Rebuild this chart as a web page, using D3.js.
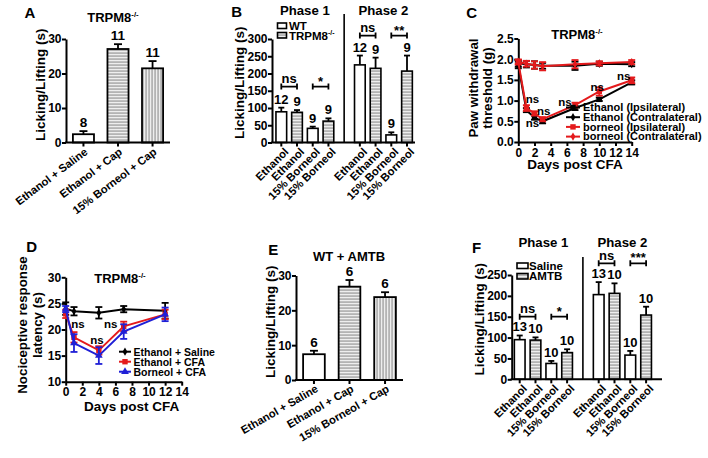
<!DOCTYPE html>
<html><head><meta charset="utf-8">
<script src="https://cdn.jsdelivr.net/npm/d3@7"></script>
<style>
body{margin:0;background:#fff}
svg{display:block}
text{font-family:"Liberation Sans",Arial,sans-serif;font-weight:bold;fill:#000}
</style>
</head><body>
<svg id="fig" width="708" height="458"></svg>
<script>
// ---------------- DATA ----------------
// Panel A (TRPM8-/-)
const catA = ["Ethanol + Saline", "Ethanol + Cap", "15% Borneol + Cap"];
const meanA = [2.4, 27.1, 21.5];
const semA = [0.9, 1.4, 2.1];
const nA = ["8", "11", "11"];
const fillA = ["white", "hstripe", "vstripe"];
const yTicksA = [0, 10, 20, 30];

// Panel B (Phase 1 / Phase 2, WT vs TRPM8-/-)
const catB = ["Ethanol", "Ethanol", "15% Borneol", "15% Borneol", "Ethanol", "Ethanol", "15% Borneol", "15% Borneol"];
const groupB = ["WT", "TRPM8", "WT", "TRPM8", "WT", "TRPM8", "WT", "TRPM8"];
const phaseB = [1, 1, 1, 1, 2, 2, 2, 2];
const meanB = [89, 87.5, 41, 62, 225, 215, 22, 207];
const semB = [12, 6.5, 5, 8, 27, 31, 7.5, 45];
const nB = ["12", "9", "9", "9", "12", "9", "9", "9"];
const sigPairsB = [[0, 1], [2, 3], [4, 5], [6, 7]];
const sigTextB = ["ns", "*", "ns", "**"];
const sigLevelB = [162, 162, 310, 310];
const yTicksB = [0, 50, 100, 150, 200, 250, 300];

// Panel C (paw withdrawal threshold)
const daysC = [0, 1, 2, 3, 7, 10, 14];
const ethIpsiC = [1.86, 0.77, 0.59, 0.50, 0.82, 1.03, 1.44];
const ethIpsiSemC = [0.08, 0.05, 0.05, 0.05, 0.05, 0.04, 0.05];
const ethContraC = [1.90, 1.88, 1.86, 1.84, 1.84, 1.89, 1.88];
const ethContraSemC = [0.08, 0.08, 0.09, 0.07, 0.10, 0.05, 0.05];
const borIpsiC = [1.93, 0.82, 0.69, 0.55, 0.89, 1.22, 1.49];
const borIpsiSemC = [0.06, 0.07, 0.05, 0.05, 0.06, 0.10, 0.07];
const borContraC = [1.94, 1.89, 1.86, 1.83, 1.88, 1.90, 1.93];
const borContraSemC = [0.05, 0.07, 0.09, 0.10, 0.10, 0.05, 0.05];
const legendC = ["Ethanol (Ipsilateral)", "Ethanol (Contralateral)", "borneol (Ipsilateral)", "borneol (Contralateral)"];
const nsDaysC = [1, 2, 3, 7, 10, 14];

// Panel D (nociceptive response latency)
const daysD = [0, 1, 4, 7, 12];
const salineD = [24.0, 23.5, 23.2, 23.9, 23.6];
const salineSemD = [1.2, 0.8, 1.1, 0.6, 1.5];
const ethCfaD = [23.0, 18.5, 16.0, 20.6, 22.9];
const ethCfaSemD = [0.8, 1.0, 0.8, 0.9, 0.9];
const borCfaD = [23.9, 17.4, 15.0, 19.6, 22.9];
const borCfaSemD = [0.6, 1.7, 1.6, 1.4, 1.3];
const legendD = ["Ethanol + Saline", "Ethanol + CFA", "Borneol + CFA"];
const nsDaysD = [1, 4, 7];

// Panel E (WT + AMTB)
const catE = ["Ethanol + Saline", "Ethanol + Cap", "15% Borneol + Cap"];
const meanE = [7.4, 26.8, 23.8];
const semE = [1.0, 1.9, 1.4];
const nE = ["6", "6", "6"];
const yTicksE = [0, 10, 20, 30];

// Panel F (Saline vs AMTB)
const catF = ["Ethanol", "Ethanol", "15% Borneol", "15% Borneol", "Ethanol", "Ethanol", "15% Borneol", "15% Borneol"];
const groupF = ["Saline", "AMTB", "Saline", "AMTB", "Saline", "AMTB", "Saline", "AMTB"];
const phaseF = [1, 1, 1, 1, 2, 2, 2, 2];
const meanF = [95, 94, 38, 64, 203, 206, 58, 154];
const semF = [10, 6.5, 6, 8, 30, 24, 10, 20];
const nF = ["13", "10", "10", "10", "13", "10", "10", "10"];
const sigPairsF = [[0, 1], [2, 3], [4, 5], [6, 7]];
const sigTextF = ["ns", "*", "ns", "***"];
const sigLevelF = [150, 150, 278, 278];
const yTicksF = [0, 50, 100, 150, 200, 250];

// ---------------- DRAWING ----------------
const svg = d3.select("#fig");
svg.append("rect").attr("width", 708).attr("height", 458).attr("fill", "#fff");
const defs = svg.append("defs");
function stripe(id, vertical) {
  const p = defs.append("pattern").attr("id", id).attr("patternUnits", "userSpaceOnUse")
    .attr("width", 3).attr("height", 3);
  p.append("rect").attr("width", 3).attr("height", 3).attr("fill", "#b4b4b4");
  if (vertical) p.append("rect").attr("width", 1.2).attr("height", 3).attr("fill", "#eeeeee");
  else p.append("rect").attr("width", 3).attr("height", 1.2).attr("fill", "#eeeeee");
}
stripe("hstripe", false);
stripe("vstripe", true);
const fillOf = f => f === "white" ? "#fff" : `url(#${f})`;

function txt(x, y, s, size, anchor = "middle") {
  return svg.append("text").attr("x", x).attr("y", y).attr("font-size", size)
    .attr("text-anchor", anchor).text(s);
}
function trpm(x, y, size, anchor = "middle") {
  const t = svg.append("text").attr("x", x).attr("y", y).attr("font-size", size).attr("text-anchor", anchor);
  t.append("tspan").text("TRPM8");
  t.append("tspan").attr("font-size", size * 0.6).attr("dy", -size * 0.38).text("-/-");
  return t;
}
function vtitle(x, y, s, size) {
  return svg.append("text").attr("transform", `translate(${x},${y}) rotate(-90)`)
    .attr("font-size", size).attr("text-anchor", "middle").text(s);
}
function styleAxis(g, fs) {
  g.attr("font-size", fs);
  g.select(".domain").attr("stroke-width", 2).attr("stroke", "#000");
  g.selectAll(".tick line").attr("stroke-width", 2).attr("stroke", "#000");
}
function yAxis(y, x0, ticks, fs, fmt) {
  const ax = d3.axisLeft(y).tickValues(ticks).tickSize(4).tickSizeOuter(0).tickPadding(0.5);
  if (fmt) ax.tickFormat(fmt);
  const g = svg.append("g").attr("transform", `translate(${x0},0)`).call(ax);
  styleAxis(g, fs);
  return g;
}
function errBar(cx, yTop, yMean, capW, color = "#000", sw = 1.8) {
  svg.append("line").attr("x1", cx).attr("x2", cx).attr("y1", yMean).attr("y2", yTop)
    .attr("stroke", color).attr("stroke-width", sw);
  svg.append("line").attr("x1", cx - capW / 2).attr("x2", cx + capW / 2).attr("y1", yTop).attr("y2", yTop)
    .attr("stroke", color).attr("stroke-width", sw);
}
function bracket(xa, xb, y, s) {
  const p = d3.path();
  p.moveTo(xa, y - 3); p.lineTo(xa, y + 3);
  p.moveTo(xb, y - 3); p.lineTo(xb, y + 3);
  p.moveTo(xa, y); p.lineTo(xb, y);
  svg.append("path").attr("d", p.toString()).attr("stroke", "#000").attr("stroke-width", 1.8).attr("fill", "none");
  txt((xa + xb) / 2, s.startsWith("*") ? y - 1 : y - 3.5, s, 13);
}
function rotLabel(cx, y0, s, fs, rot, dx, dy) {
  svg.append("text").attr("transform", `translate(${cx + dx},${y0 + dy}) rotate(${-rot})`)
    .attr("text-anchor", "end").attr("font-size", fs).text(s);
}

// ---- simple 3-bar panels (A, E) ----
function simpleBars(o) {
  const x = d3.scaleBand().domain(d3.range(o.cats.length)).range([o.x0, o.x1])
    .paddingInner(0.39).paddingOuter(0.2);
  const y = d3.scaleLinear().domain([0, o.ymax]).range([o.yb, o.yt]);
  o.mean.forEach((m, i) => {
    const cx = x(i) + x.bandwidth() / 2;
    errBar(cx, y(m + o.sem[i]), y(m), 8);
    svg.append("rect").attr("x", x(i)).attr("y", y(m)).attr("width", x.bandwidth())
      .attr("height", o.yb - y(m)).attr("fill", fillOf(o.fills[i])).attr("stroke", "#000").attr("stroke-width", 1.8);
    txt(cx, y(m + o.sem[i]) - 4, o.n[i], 13.5);
    svg.append("line").attr("x1", cx).attr("x2", cx).attr("y1", o.yb).attr("y2", o.yb + 4)
      .attr("stroke", "#000").attr("stroke-width", 2);
    rotLabel(cx, o.yb, o.cats[i], 11.2, o.rot, 5, 11);
  });
  svg.append("line").attr("x1", o.x0 - 1).attr("x2", o.x1).attr("y1", o.yb).attr("y2", o.yb)
    .attr("stroke", "#000").attr("stroke-width", 2);
  yAxis(y, o.x0, o.ticks, 12);
  vtitle(o.titleX, (o.yb + o.yt) / 2 - 6, "Licking/Lifting (s)", 13.5);
}

// ---- grouped bars with two phases (B, F) ----
function phaseBars(o) {
  const slot = o.mean.map((_, i) => i + (o.phase[i] - 1));
  const x = d3.scaleLinear().domain([0, 8]).range([o.c0, o.c8]);
  const y = d3.scaleLinear().domain([0, o.ymax]).range([o.yb, o.yt]);
  const bw = 10.7;
  o.mean.forEach((m, i) => {
    const cx = x(slot[i]);
    errBar(cx, y(m + o.sem[i]), y(m), 6);
    const f = o.groups[i] === o.groupNames[0] ? "white" : "hstripe";
    svg.append("rect").attr("x", cx - bw / 2).attr("y", y(m)).attr("width", bw)
      .attr("height", o.yb - y(m)).attr("fill", fillOf(f)).attr("stroke", "#000").attr("stroke-width", 1.6);
    txt(cx, y(m + o.sem[i]) - 4, o.n[i], 13);
    svg.append("line").attr("x1", cx).attr("x2", cx).attr("y1", o.yb).attr("y2", o.yb + 4)
      .attr("stroke", "#000").attr("stroke-width", 2);
    rotLabel(cx, o.yb, o.cats[i], 11.2, 45, 8, 10);
  });
  o.pairs.forEach((p, k) => bracket(x(slot[p[0]]), x(slot[p[1]]), y(o.levels[k]), o.sigText[k]));
  // divider
  svg.append("line").attr("x1", x(4)).attr("x2", x(4)).attr("y1", o.divTop).attr("y2", o.yb)
    .attr("stroke", "#000").attr("stroke-width", 1.6);
  svg.append("line").attr("x1", o.x0 - 1).attr("x2", o.x1).attr("y1", o.yb).attr("y2", o.yb)
    .attr("stroke", "#000").attr("stroke-width", 2);
  yAxis(y, o.x0, o.ticks, 12);
  vtitle(o.titleX, (o.yb + o.yt) / 2 - 8, "Licking/Lifting (s)", 13.5);
  txt((x(0) + x(3)) / 2, o.phaseY, "Phase 1", 13.2);
  txt((x(5) + x(8)) / 2, o.phaseY, "Phase 2", 13.2);
}

// ---- line panels (C, D) ----
function marker(g, type, cx, cy, color) {
  if (type === "square") g.append("rect").attr("x", cx - 2.7).attr("y", cy - 2.7).attr("width", 5.4).attr("height", 5.4).attr("fill", color);
  else if (type === "triangle") g.append("path").attr("d", d3.symbol(d3.symbolTriangle, 26)()).attr("transform", `translate(${cx},${cy})`).attr("fill", color);
  else g.append("path").attr("d", d3.symbol(d3.symbolDiamond, 20)()).attr("transform", `translate(${cx},${cy})`).attr("fill", color);
}
function series(x, y, days, vals, sems, color, mtype) {
  const g = svg.append("g");
  g.append("path").datum(days.map((d, i) => [d, vals[i]]))
    .attr("d", d3.line().x(d => x(d[0])).y(d => y(d[1])))
    .attr("fill", "none").attr("stroke", color).attr("stroke-width", 2);
  days.forEach((d, i) => {
    const cx = x(d);
    g.append("line").attr("x1", cx).attr("x2", cx).attr("y1", y(vals[i] - sems[i])).attr("y2", y(vals[i] + sems[i]))
      .attr("stroke", color).attr("stroke-width", 1.8);
    [vals[i] - sems[i], vals[i] + sems[i]].forEach(v =>
      g.append("line").attr("x1", cx - 3.5).attr("x2", cx + 3.5).attr("y1", y(v)).attr("y2", y(v))
        .attr("stroke", color).attr("stroke-width", 1.8));
    marker(g, mtype, cx, y(vals[i]), color);
  });
}
function xAxisLin(x, y0, ticks, fs) {
  const g = svg.append("g").attr("transform", `translate(0,${y0})`)
    .call(d3.axisBottom(x).tickValues(ticks).tickSize(4).tickSizeOuter(0).tickPadding(2));
  styleAxis(g, fs);
}

// ===== Panel A =====
txt(30, 18, "A", 15);
trpm(113, 21.5, 13);
simpleBars({cats: catA, mean: meanA, sem: semA, n: nA, fills: fillA, x0: 66, x1: 170,
  yb: 142.5, yt: 39, ymax: 30, ticks: yTicksA, rot: 37, titleX: 45});

// ===== Panel B =====
txt(236.7, 17, "B", 15);
phaseBars({cats: catB, groups: groupB, groupNames: ["WT", "TRPM8"], phase: phaseB, mean: meanB, sem: semB, n: nB,
  pairs: sigPairsB, sigText: sigTextB, levels: sigLevelB, x0: 272, x1: 415, c0: 281.3, c8: 407,
  yb: 142.5, yt: 39, ymax: 300, ticks: yTicksB, titleX: 244, divTop: 14, phaseY: 15});
// legend B
svg.append("rect").attr("x", 277.5).attr("y", 23).attr("width", 9).attr("height", 5.5).attr("fill", "#fff").attr("stroke", "#000").attr("stroke-width", 1.6);
txt(289, 29.5, "WT", 11.5, "start");
svg.append("rect").attr("x", 277.5).attr("y", 32.5).attr("width", 9).attr("height", 5.5).attr("fill", "url(#hstripe)").attr("stroke", "#000").attr("stroke-width", 1.6);
trpm(289, 39.5, 11.5, "start");

// ===== Panel C =====
txt(471.7, 18, "C", 15);
{
  const x = d3.scaleLinear().domain([0, 14]).range([518.3, 631.7]);
  const y = d3.scaleLinear().domain([0, 2.5]).range([142, 38.5]);
  yAxis(y, 518.3, [0, 0.5, 1, 1.5, 2, 2.5], 12, d3.format(".1f"));
  xAxisLin(x, 142, d3.range(0, 15, 2), 12);
  series(x, y, daysC, ethIpsiC, ethIpsiSemC, "#000", "square");
  series(x, y, daysC, ethContraC, ethContraSemC, "#000", "diamond");
  series(x, y, daysC, borIpsiC, borIpsiSemC, "#e41a1c", "square");
  series(x, y, daysC, borContraC, borContraSemC, "#e41a1c", "diamond");
  // ns annotations (placement offsets relative to the ipsilateral points)
  const place = {1: [6, -2, "top"], 2: [-2, 7, "bottom"], 3: [1, -2, "top"], 7: [-10, 3, "top"], 10: [-2, 4, "top"], 14: [-8, 2.6, "top"]};
  nsDaysC.forEach(d => {
    const i = daysC.indexOf(d);
    const [dx, dy, ref] = place[d];
    const v = ref === "top" ? Math.max(borIpsiC[i] + borIpsiSemC[i], ethIpsiC[i] + ethIpsiSemC[i])
                            : Math.min(borIpsiC[i] - borIpsiSemC[i], ethIpsiC[i] - ethIpsiSemC[i]);
    txt(x(d) + dx, y(v) + dy, "ns", 11.5);
  });
  // legend
  const cols = ["#000", "#000", "#e41a1c", "#e41a1c"], mk = ["square", "diamond", "square", "diamond"];
  legendC.forEach((s, k) => {
    const yy = 107.5 + k * 9.7;
    svg.append("line").attr("x1", 566).attr("x2", 580).attr("y1", yy).attr("y2", yy).attr("stroke", cols[k]).attr("stroke-width", 2);
    marker(svg, mk[k], 573, yy, cols[k]);
    txt(583, yy + 3.8, s, 11, "start");
  });
  trpm(577, 39, 13);
  txt(575, 169, "Days post CFA", 13.5);
  vtitle(478, 88, "Paw withdrawal", 13.3);
  vtitle(492, 88, "threshold (g)", 13.3);
}

// ===== Panel D =====
txt(31.7, 252, "D", 15);
{
  const x = d3.scaleLinear().domain([0, 14]).range([65.7, 181.7]);
  const y = d3.scaleLinear().domain([10, 30]).range([381.7, 277.3]);
  yAxis(y, 65.7, [10, 15, 20, 25, 30], 12);
  xAxisLin(x, 381.7, d3.range(0, 15, 2), 12);
  series(x, y, daysD, salineD, salineSemD, "#000", "diamond");
  series(x, y, daysD, ethCfaD, ethCfaSemD, "#e41a1c", "square");
  series(x, y, daysD, borCfaD, borCfaSemD, "#1f1fd6", "triangle");
  const place = {1: [4, -4], 4: [-2, -2], 7: [-13, 6]};
  nsDaysD.forEach(d => {
    const i = daysD.indexOf(d);
    const [dx, dy] = place[d];
    txt(x(d) + dx, y(ethCfaD[i] + ethCfaSemD[i]) + dy, "ns", 11.5);
  });
  const cols = ["#000", "#e41a1c", "#1f1fd6"], mk = ["diamond", "square", "triangle"];
  legendD.forEach((s, k) => {
    const yy = 351.7 + k * 10;
    svg.append("line").attr("x1", 119).attr("x2", 131).attr("y1", yy).attr("y2", yy).attr("stroke", cols[k]).attr("stroke-width", 2);
    marker(svg, mk[k], 125, yy, cols[k]);
    txt(133.5, yy + 4, s, 10.5, "start");
  });
  trpm(120, 283, 13);
  txt(131.7, 411, "Days post CFA", 13.5);
  vtitle(27, 325, "Nociceptive response", 13.3);
  vtitle(42, 325, "latency (s)", 13.3);
}

// ===== Panel E =====
txt(273.3, 255, "E", 15);
txt(349, 261, "WT + AMTB", 13);
simpleBars({cats: catE, mean: meanE, sem: semE, n: nE, fills: fillA, x0: 296, x1: 403,
  yb: 380, yt: 275.5, ymax: 30, ticks: yTicksE, rot: 30, titleX: 275});

// ===== Panel F =====
txt(476.7, 253, "F", 15);
phaseBars({cats: catF, groups: groupF, groupNames: ["Saline", "AMTB"], phase: phaseF, mean: meanF, sem: semF, n: nF,
  pairs: sigPairsF, sigText: sigTextF, levels: sigLevelF, x0: 511.7, x1: 662, c0: 519.7, c8: 646.1,
  yb: 379.3, yt: 275, ymax: 250, ticks: yTicksF, titleX: 484, divTop: 257, phaseY: 246.5});
svg.append("rect").attr("x", 517).attr("y", 263).attr("width", 11).attr("height", 5.5).attr("fill", "#fff").attr("stroke", "#000").attr("stroke-width", 1.6);
txt(529, 269.5, "Saline", 11.5, "start");
svg.append("rect").attr("x", 517).attr("y", 273.5).attr("width", 11).attr("height", 5.5).attr("fill", "url(#hstripe)").attr("stroke", "#000").attr("stroke-width", 1.6);
txt(529, 280, "AMTB", 11.5, "start");
</script>
</body></html>
